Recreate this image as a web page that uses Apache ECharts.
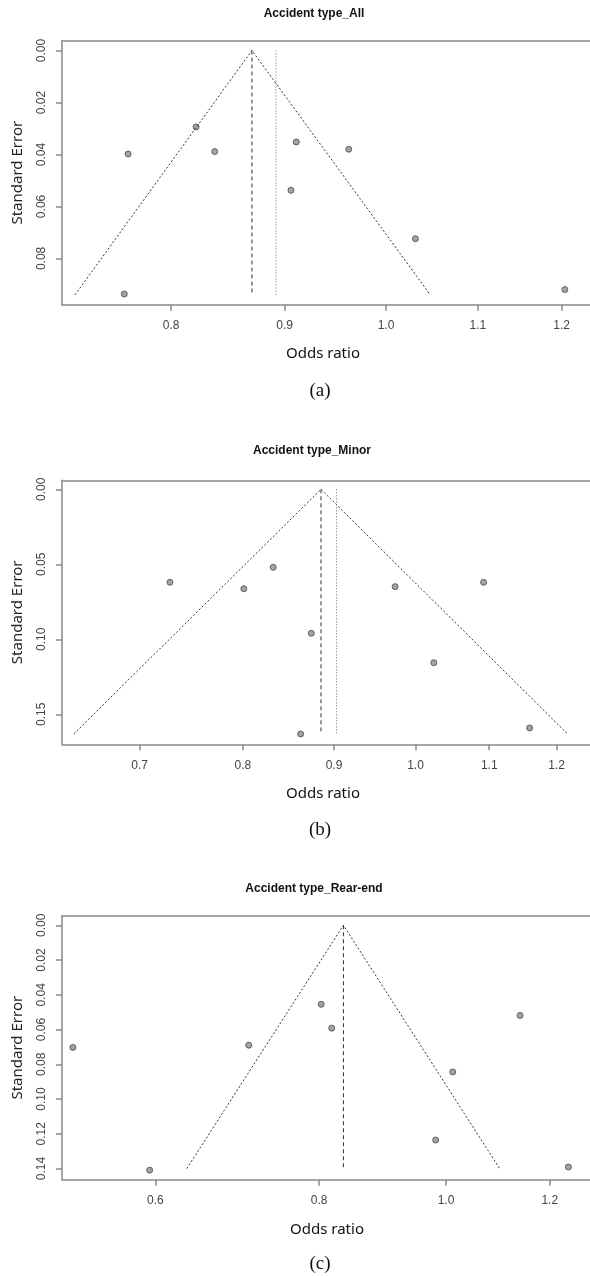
<!DOCTYPE html>
<html>
<head>
<meta charset="utf-8">
<script src="https://cdn.jsdelivr.net/npm/echarts@6/dist/echarts.min.js"></script>
<style>
  html, body { margin: 0; padding: 0; background: #fff; overflow: hidden; }
  #chart { width: 590px; height: 1276px; }
</style>
</head>
<body>
<div id="chart"></div>
<script>
  // panel (a) Accident type_All
  const orA = [0.821, 0.765, 0.837, 0.911, 0.962, 0.906, 1.031, 0.762, 1.204];
  const seA = [0.0294, 0.0398, 0.0389, 0.0352, 0.0380, 0.0538, 0.0724, 0.0937, 0.0920];
  const funnelA = [[0.724, 0.094], [0.870, 0], [1.047, 0.094]];
  const estA = 0.870, est2A = 0.892, seMaxA = 0.094;
  const xTicksA = [0.8, 0.9, 1.0, 1.1, 1.2];
  const yTicksA = [0, 0.02, 0.04, 0.06, 0.08];

  // panel (b) Accident type_Minor
  const orB = [0.728, 0.801, 0.832, 0.974, 1.092, 0.874, 1.024, 0.862, 1.159];
  const seB = [0.062, 0.0663, 0.052, 0.0649, 0.062, 0.096, 0.1156, 0.1631, 0.1591];
  const funnelB = [[0.643, 0.163], [0.885, 0], [1.217, 0.163]];
  const estB = 0.885, est2B = 0.903, seMaxB = 0.163;
  const xTicksB = [0.7, 0.8, 0.9, 1.0, 1.1, 1.2];
  const yTicksB = [0, 0.05, 0.10, 0.15];

  // panel (c) Accident type_Rear-end
  const orC = [0.519, 0.707, 0.803, 0.818, 1.139, 1.012, 0.982, 0.594, 1.240];
  const seC = [0.0703, 0.069, 0.0455, 0.0592, 0.0519, 0.0844, 0.1236, 0.1409, 0.1391];
  const funnelC = [[0.634, 0.140], [0.835, 0], [1.099, 0.140]];
  const estC = 0.835, seMaxC = 0.140;
  const xTicksC = [0.6, 0.8, 1.0, 1.2];
  const yTicksC = [0, 0.02, 0.04, 0.06, 0.08, 0.10, 0.12, 0.14];

  const chart = echarts.init(document.getElementById('chart'));
  const axisGray = '#8a8a8a';
  const tickFont = 'Liberation Sans';

  // one panel = grid + bottom x axis + top frame line + left y axis
  // x axis works on ln(odds ratio), labels shown back as odds ratio
  function panel(i, top, xMin, xMax, yMin, yMax, xTicks, yTicks) {
    const grid = { left: 62, top: top, height: 264, right: 0 };
    const xAxis = {
      gridIndex: i, type: 'value', min: xMin, max: xMax, position: 'bottom',
      axisLine: { show: true, onZero: false, lineStyle: { color: axisGray, width: 1.5 } },
      axisTick: { show: true, length: 6, customValues: xTicks.map(Math.log),
        lineStyle: { color: axisGray, width: 1.5 } },
      axisLabel: { customValues: xTicks.map(Math.log), margin: 15, color: '#444',
        fontFamily: tickFont, fontSize: 12,
        formatter: v => Math.exp(v).toFixed(1) },
      splitLine: { show: false }
    };
    const xTop = {
      gridIndex: i, type: 'value', min: xMin, max: xMax, position: 'top',
      axisLine: { show: true, onZero: false, lineStyle: { color: axisGray, width: 1.5 } },
      axisTick: { show: false }, axisLabel: { show: false }, splitLine: { show: false }
    };
    const yAxis = {
      gridIndex: i, type: 'value', inverse: true, min: yMin, max: yMax,
      name: 'Standard Error', nameLocation: 'middle', nameGap: 37, nameRotate: 90,
      nameTextStyle: { fontFamily: 'Noto Sans', fontSize: 15, color: '#222' },
      axisLine: { show: true, onZero: false, lineStyle: { color: axisGray, width: 1.5 } },
      axisTick: { show: true, length: 6, customValues: yTicks,
        lineStyle: { color: axisGray, width: 1.5 } },
      axisLabel: { customValues: yTicks, rotate: 90, margin: 14, color: '#444',
        fontFamily: tickFont, fontSize: 12,
        formatter: v => v.toFixed(2) },
      splitLine: { show: false }
    };
    return { grid, xAxis, xTop, yAxis };
  }

  const pA = panel(0, 40.7, -0.3365, 0.2118, -0.00377, 0.0978, xTicksA, yTicksA);
  const pB = panel(1, 480.3, -0.457, 0.2256, -0.006, 0.17, xTicksB, yTicksB);
  const pC = panel(2, 915.7, -0.675, 0.2531, -0.0055, 0.1464, xTicksC, yTicksC);

  function lineSeries(i, pts, type, color) {
    return {
      type: 'line', xAxisIndex: i, yAxisIndex: i, symbol: 'none', silent: true,
      data: pts.map(p => [Math.log(p[0]), p[1]]),
      lineStyle: { color: color, width: 1, type: type }
    };
  }
  function pointSeries(i, or, se) {
    return {
      type: 'scatter', xAxisIndex: i, yAxisIndex: i, symbol: 'circle', symbolSize: 6,
      data: or.map((o, k) => [Math.log(o), se[k]]),
      itemStyle: { color: '#8c8c8c', borderColor: '#4a4a4a', borderWidth: 1 }
    };
  }

  const series = [
    lineSeries(0, funnelA, [2, 2], '#333'),
    lineSeries(0, [[estA, 0], [estA, seMaxA]], [4, 3], '#333'),
    lineSeries(0, [[est2A, 0], [est2A, seMaxA]], [1, 2], '#666'),
    pointSeries(0, orA, seA),
    lineSeries(1, funnelB, [2, 2], '#333'),
    lineSeries(1, [[estB, 0], [estB, seMaxB]], [4, 3], '#333'),
    lineSeries(1, [[est2B, 0], [est2B, seMaxB]], [1, 2], '#666'),
    pointSeries(1, orB, seB),
    lineSeries(2, funnelC, [2, 2], '#333'),
    lineSeries(2, [[estC, 0], [estC, seMaxC]], [4, 3], '#333'),
    pointSeries(2, orC, seC)
  ];

  function label(x, y, text, font) {
    return { type: 'text', x: x, y: y,
      style: { text: text, align: 'center', verticalAlign: 'middle', font: font, fill: '#111' } };
  }
  const titleFont = 'bold 12px "Liberation Sans"';
  const nameFont = '15px "Noto Sans"';
  const capFont = '19px "Liberation Serif"';

  chart.setOption({
    animation: false,
    grid: [pA.grid, pB.grid, pC.grid],
    xAxis: [pA.xAxis, pB.xAxis, pC.xAxis, pA.xTop, pB.xTop, pC.xTop],
    yAxis: [pA.yAxis, pB.yAxis, pC.yAxis],
    series: series,
    graphic: [
      label(314, 14, 'Accident type_All', titleFont),
      label(323, 354, 'Odds ratio', nameFont),
      label(320, 391, '(a)', capFont),
      label(312, 451, 'Accident type_Minor', titleFont),
      label(323, 794, 'Odds ratio', nameFont),
      label(320, 830, '(b)', capFont),
      label(314, 889, 'Accident type_Rear-end', titleFont),
      label(327, 1230, 'Odds ratio', nameFont),
      label(320, 1264, '(c)', capFont)
    ]
  });
</script>
</body>
</html>
